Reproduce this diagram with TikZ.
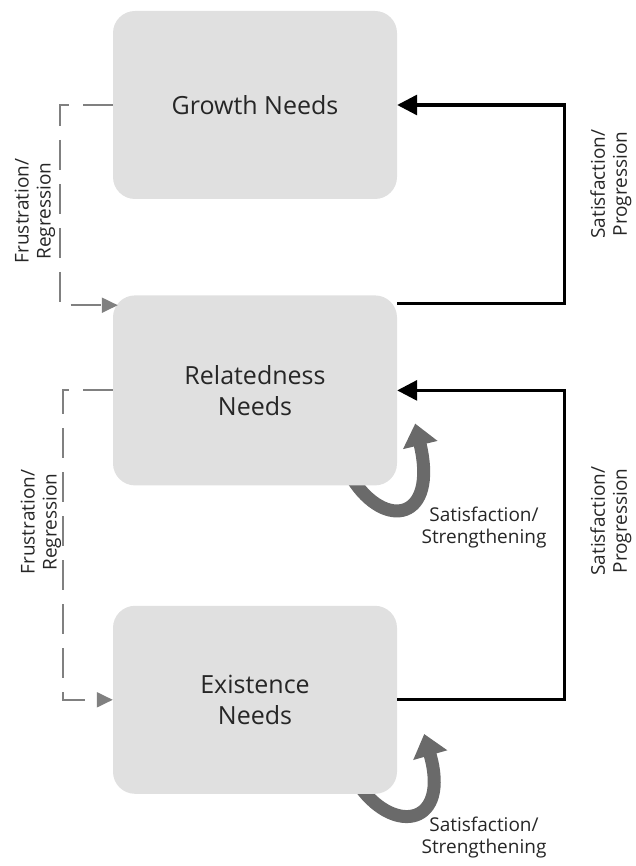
\documentclass[tikz,border=0pt]{standalone}
\usepackage{fontspec}
\setmainfont{Open Sans}
\usepackage{tikz}
\usetikzlibrary{positioning,arrows.meta,calc}
\pgfdeclarelayer{background}
\pgfsetlayers{background,main}
\definecolor{boxgray}{HTML}{E0E0E0}
\definecolor{dashgray}{HTML}{808080}
\definecolor{loopgray}{HTML}{6A6A6A}

\begin{document}
\begin{tikzpicture}[x=1pt,y=-1pt]
\tikzstyle{need}=[rectangle, rounded corners=22pt, fill=boxgray, minimum width=284pt, align=center, font=\fontsize{25}{31}\selectfont, text=black!85]
\tikzstyle{prog}=[line width=3.2pt, -{Triangle[length=20pt,width=20pt]}]
\tikzstyle{regr}=[line width=2pt, draw=dashgray, dash pattern=on 30pt off 14pt, -{Triangle[length=16pt,width=15pt]}]
\tikzstyle{strong}=[line width=13pt, draw=loopgray, -{Triangle[length=22pt,width=34pt]}]
\tikzstyle{lbl}=[align=center, font=\fontsize{19}{22}\selectfont, text=black!85]
\useasboundingbox (0,0) rectangle (635,866);
\node[need, minimum height=188pt] (growth) at (255,105) {Growth Needs};
\node[need, minimum height=190pt] (related) [below=96pt of growth] {Relatedness\\Needs};
\node[need, minimum height=188pt] (exist) [below=120pt of related] {Existence\\Needs};

% progression
\coordinate (rtop) at ([yshift=-8pt]related.north east);
\draw[prog] (rtop) -- ++(167,0) |- (growth.east);
\draw[prog] (exist.east) -- ++(167,0) |- (related.east);

% regression
\coordinate (rin) at ([xshift=5pt,yshift=-10pt]related.north west);
\draw[regr] (growth.west) -- ++(-53,0) |- (rin);
\draw[regr] (related.west) -- ++(-50,0) |- (exist.west);

% strengthening
\begin{pgfonlayer}{background}
\draw[strong] ($(related.south east)+(-45,-7)$) .. controls ($(related.south east)+(-12,45)$) and ($(related.south east)+(41,35)$) .. ($(related.south east)+(18,-62)$);
\draw[strong] ($(exist.south east)+(-37,-7)$) .. controls ($(exist.south east)+(-2,41)$) and ($(exist.south east)+(53,31)$) .. ($(exist.south east)+(27,-60)$);
\end{pgfonlayer}

\node[lbl] (sr) at (484,528) {Satisfaction/\\Strengthening};
\node[lbl] (se) at (484,838) {Satisfaction/\\Strengthening};
\node[lbl, rotate=90] (pg) at (611,184) {Satisfaction/\\Progression};
\node[lbl, rotate=90] (pr) at (611,521) {Satisfaction/\\Progression};
\node[lbl, rotate=90] (fg) at (35,211) {Frustration/\\Regression};
\node[lbl, rotate=90] (fr) at (41,522) {Frustration/\\Regression};
\end{tikzpicture}
\end{document}
